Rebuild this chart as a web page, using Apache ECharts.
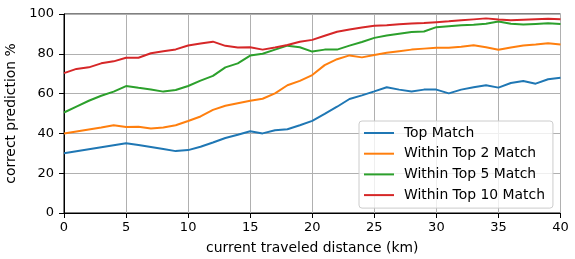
<!DOCTYPE html>
<html>
<head>
<meta charset="utf-8">
<script src="https://cdn.jsdelivr.net/npm/echarts@6/dist/echarts.min.js"></script>
<style>html,body{margin:0;padding:0;background:#fff}#c{width:575px;height:259px}</style>
</head>
<body>
<div id="c"></div>
<script>
const distances = [0,1,2,3,4,5,6,7,8,9,10,11,12,13,14,15,16,17,18,19,20,21,22,23,24,25,26,27,28,29,30,31,32,33,34,35,36,37,38,39,40];
const topMatch = [30,31,32,33,34,35,34.2,33.2,32.2,31.1,31.6,33.3,35.4,37.7,39.3,41.1,40,41.6,42.1,44.1,46.3,49.8,53.4,57.3,59.1,61.1,63.2,62,61.1,62,62,60.1,62,63.2,64.2,63,65.3,66.3,65,67.2,68];
const top2Match = [40,41,42,43,44.1,43.2,43.3,42.5,43,44.1,46.2,48.5,51.8,53.9,55.2,56.4,57.4,60.1,64.2,66.4,69.3,74.3,77.3,79.2,78.2,79.4,80.5,81.3,82.1,82.6,83,83,83.5,84.3,83.3,82,83.2,84.2,84.7,85.3,84.7];
const top5Match = [50.5,53.5,56.4,58.9,61,63.8,62.9,62.1,61,61.8,63.8,66.5,68.9,73.2,75.2,79.1,80,82.1,84.1,83.3,81.1,82.1,82.1,84.1,85.9,88,89.2,90.1,91,91.2,93.4,93.9,94.3,94.6,95.1,96.2,95.1,94.7,95,95.3,95];
const top10Match = [70.3,72.4,73.2,75.2,76.2,78,78,80.3,81.3,82.2,84.2,85.2,86.1,84,83.2,83.3,82.1,83.2,84.4,86.1,87,89.1,91.1,92.2,93.2,94.1,94.4,94.8,95.2,95.5,95.9,96.3,96.8,97.3,97.8,97.2,96.8,97.1,97.4,97.6,97.3];
const seriesNames = ['Top Match','Within Top 2 Match','Within Top 5 Match','Within Top 10 Match'];
const colors = ['#1f77b4','#ff7f0e','#2ca02c','#d62728'];
const allValues = [topMatch, top2Match, top5Match, top10Match];

const font = 'DejaVu Sans';
const chart = echarts.init(document.getElementById('c'), null, {renderer:'canvas'});
chart.setOption({
  animation: false,
  color: colors,
  textStyle: {fontFamily: font},
  grid: {left: 64, right: 14.5, top: 14, bottom: 46, containLabel: false, outerBoundsMode: 'none',
         show: true, borderColor: '#000', borderWidth: 1, backgroundColor: 'transparent'},
  legend: {
    orient: 'vertical', left: 359, top: 121,
    icon: 'rect', itemWidth: 30, itemHeight: 2, itemGap: 4.7,
    padding: [4, 8, 5, 5],
    backgroundColor: 'rgba(255,255,255,0.8)', borderColor: '#cccccc', borderWidth: 1, borderRadius: 3,
    textStyle: {fontFamily: font, fontSize: 13.9, color: '#000', lineHeight: 16, padding: [0,0,0,5]},
    data: seriesNames
  },
  xAxis: {
    type: 'value', min: 0, max: 40, interval: 5,
    name: 'current traveled distance (km)', nameLocation: 'middle', nameGap: 28,
    nameTextStyle: {fontFamily: font, fontSize: 13.9, color: '#000'},
    axisLine: {show: true, lineStyle: {color: '#000', width: 1}},
    axisTick: {show: true, length: 5, lineStyle: {color: '#000'}},
    axisLabel: {fontFamily: font, fontSize: 13, color: '#000', margin: 8},
    splitLine: {show: true, lineStyle: {color: '#b0b0b0', width: 1}}
  },
  yAxis: {
    type: 'value', min: 0, max: 100, interval: 20,
    name: 'correct prediction %', nameLocation: 'middle', nameGap: 39, nameRotate: 90,
    nameTextStyle: {fontFamily: font, fontSize: 13.9, color: '#000'},
    axisLine: {show: true, lineStyle: {color: '#000', width: 1}},
    axisTick: {show: true, length: 5, lineStyle: {color: '#000'}},
    axisLabel: {fontFamily: font, fontSize: 13, color: '#000', margin: 10},
    splitLine: {show: true, lineStyle: {color: '#b0b0b0', width: 1}}
  },
  series: seriesNames.map((n, i) => ({
    name: n, type: 'line', showSymbol: false, symbol: 'none',
    lineStyle: {width: 2, color: colors[i]},
    itemStyle: {color: colors[i]},
    data: distances.map((d, j) => [d, allValues[i][j]])
  }))
});
</script>
</body>
</html>
